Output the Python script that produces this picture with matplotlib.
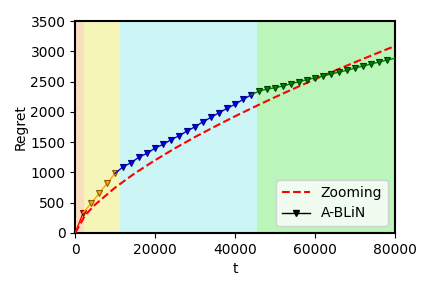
import matplotlib
matplotlib.use("Agg")
import matplotlib.pyplot as plt

# phase boundaries (background bands)
bounds = [0, 2200, 11200, 45400, 80000]
band_colors = ['#fadcc0', '#f5f5b8', '#ccf5f5', '#baf5ba']

# Zooming baseline
t_zoom = [0, 2500, 5000, 10000, 15000, 20000, 25000, 30000, 35000, 40000,
          45000, 50000, 55000, 60000, 65000, 70000, 75000, 80000]
r_zoom = [0, 293, 469, 750, 989, 1202, 1400, 1585, 1759, 1927,
          2087, 2242, 2392, 2538, 2681, 2819, 2954, 3087]

# A-BLiN, one segment per phase
t_p1 = [0, 2000]
r_p1 = [0, 335]
t_p2 = [2000, 4000, 6000, 8000, 10000]
r_p2 = [335, 490, 655, 820, 985]
t_p3 = [10000, 12000, 14000, 16000, 18000, 20000, 22000, 24000, 26000, 28000,
        30000, 32000, 34000, 36000, 38000, 40000, 42000, 44000]
r_p3 = [985, 1094, 1160, 1254, 1315, 1403, 1463, 1540, 1606, 1683,
        1754, 1837, 1909, 1985, 2058, 2124, 2206, 2277]
t_p4 = [44000, 46000, 48000, 50000, 52000, 54000, 56000, 58000, 60000, 62000,
        64000, 66000, 68000, 70000, 72000, 74000, 76000, 78000, 80000]
r_p4 = [2277, 2343, 2376, 2398, 2426, 2464, 2497, 2530, 2563, 2591,
        2624, 2657, 2685, 2723, 2756, 2789, 2822, 2855, 2885]

seg_colors = ['red', 'orange', 'blue', 'green']
edge_colors = ['#8b0000', '#8b5a00', '#000080', '#004000']

fig = plt.figure(figsize=(4.32, 2.88), dpi=100)
ax = fig.add_axes([0.174, 0.191, 0.74, 0.736])

for i in range(4):
    ax.axvspan(bounds[i], bounds[i + 1], color=band_colors[i], lw=0)

ax.plot(t_zoom, r_zoom, 'r--', lw=1.5, label='Zooming', zorder=3)

segs = [(t_p1, r_p1), (t_p2, r_p2), (t_p3, r_p3), (t_p4, r_p4)]
for (ts, rs), c, ec in zip(segs, seg_colors, edge_colors):
    me = list(range(1, len(ts)))
    if ts[-1] == 80000:
        me = me[:-1]
    ax.plot(ts, rs, color=c, lw=1, marker='v', markersize=5,
            markeredgecolor=ec, markeredgewidth=0.8, markevery=me, zorder=4)

ax.plot([], [], color='k', lw=1, marker='v', markersize=5, label='A-BLiN')

ax.set_xlim(0, 80000)
ax.set_ylim(0, 3500)
ax.set_xticks([0, 20000, 40000, 60000, 80000])
ax.set_xlabel('t')
ax.set_ylabel('Regret', labelpad=2)
for s in ax.spines.values():
    s.set_linewidth(1.5)
ax.legend(loc='lower right')

fig.savefig('out.png', dpi=100)
